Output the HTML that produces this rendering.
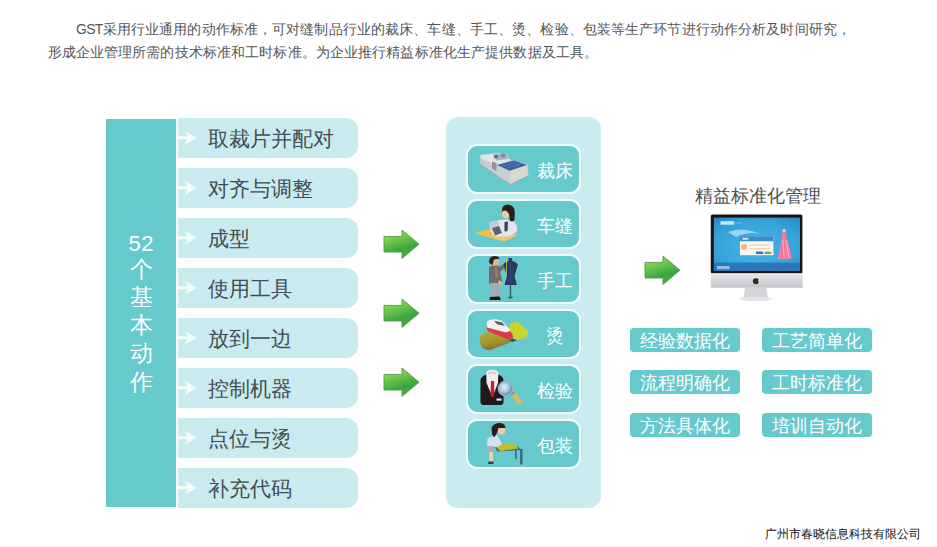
<!DOCTYPE html>
<html><head><meta charset="utf-8">
<style>
*{margin:0;padding:0;box-sizing:border-box}
html,body{width:937px;height:547px;overflow:hidden;background:#fff}
body{position:relative;font-family:"Liberation Sans",sans-serif}
.abs{position:absolute}
#para{left:47.5px;top:17.5px;width:820px;font-size:14px;line-height:23px;color:#555;text-indent:28.5px}
#lp{left:106px;top:119px;width:70px;height:388px;background:#66c9cc;color:#fff;text-align:center;font-size:22px;line-height:28px;padding-top:225px}
.it{left:178px;width:179.6px;height:40.2px;background:#c9eaee;border-radius:0 12px 12px 0}
.it span{position:absolute;left:30px;top:1px;line-height:40px;font-size:21px;color:#434d53;font-weight:500;white-space:nowrap}
.it svg{position:absolute;left:0;top:12px}
#mp{left:446px;top:117px;width:155px;height:391px;background:#caecef;border-radius:12px}
.cd{left:466px;width:115px;height:49.6px;background:#66c9cc;border:2.8px solid #f4fdfd;border-radius:11px}
.cd span{position:absolute;left:52.5px;width:68px;text-align:center;top:3px;line-height:44px;font-size:17.5px;color:#fff;white-space:nowrap}
.cd svg{position:absolute;left:8px;top:4px}
.btn{width:110px;height:24px;background:#66c9cc;border-radius:4px;color:#fff;font-size:18px;line-height:26px;text-align:center;white-space:nowrap}
#title{left:695px;top:182.5px;font-size:17.7px;line-height:26px;color:#4e4e4e;font-weight:500;white-space:nowrap}
#foot{left:764.5px;top:526px;font-size:12px;line-height:16px;color:#111;white-space:nowrap}
</style></head><body>
<div id="para" class="abs"><span style="letter-spacing:0.12px"><span style="letter-spacing:-0.7px">GST</span>采用行业通用的动作标准，可对缝制品行业的裁床、车缝、手工、烫、检验、包装等生产环节进行动作分析及时间研究，</span><br><span style="letter-spacing:0.12px">形成企业管理所需的技术标准和工时标准。为企业推行精益标准化生产提供数据及工具。</span></div>

<div id="lp" class="abs"><div style="position:absolute;left:0;width:70px;top:110.5px;letter-spacing:0.6px;text-indent:0.6px">52</div><div style="position:absolute;left:0;width:70px;top:135.8px;line-height:28.2px;font-size:23px">个<br>基<br>本<br>动<br>作</div></div>

<div class="abs it" style="top:117.6px"><svg width="20" height="16" viewBox="0 0 20 16"><path d="M0 6.2H11V9.3H0Z M6.5 0.8L19 7.8L6.5 14.8L10.5 7.8Z" fill="#f4fcfc"/></svg><span>取裁片并配对</span></div>
<div class="abs it" style="top:167.6px"><svg width="20" height="16" viewBox="0 0 20 16"><path d="M0 6.2H11V9.3H0Z M6.5 0.8L19 7.8L6.5 14.8L10.5 7.8Z" fill="#f4fcfc"/></svg><span>对齐与调整</span></div>
<div class="abs it" style="top:217.6px"><svg width="20" height="16" viewBox="0 0 20 16"><path d="M0 6.2H11V9.3H0Z M6.5 0.8L19 7.8L6.5 14.8L10.5 7.8Z" fill="#f4fcfc"/></svg><span>成型</span></div>
<div class="abs it" style="top:267.6px"><svg width="20" height="16" viewBox="0 0 20 16"><path d="M0 6.2H11V9.3H0Z M6.5 0.8L19 7.8L6.5 14.8L10.5 7.8Z" fill="#f4fcfc"/></svg><span>使用工具</span></div>
<div class="abs it" style="top:317.6px"><svg width="20" height="16" viewBox="0 0 20 16"><path d="M0 6.2H11V9.3H0Z M6.5 0.8L19 7.8L6.5 14.8L10.5 7.8Z" fill="#f4fcfc"/></svg><span>放到一边</span></div>
<div class="abs it" style="top:367.6px"><svg width="20" height="16" viewBox="0 0 20 16"><path d="M0 6.2H11V9.3H0Z M6.5 0.8L19 7.8L6.5 14.8L10.5 7.8Z" fill="#f4fcfc"/></svg><span>控制机器</span></div>
<div class="abs it" style="top:417.6px"><svg width="20" height="16" viewBox="0 0 20 16"><path d="M0 6.2H11V9.3H0Z M6.5 0.8L19 7.8L6.5 14.8L10.5 7.8Z" fill="#f4fcfc"/></svg><span>点位与烫</span></div>
<div class="abs it" style="top:467.6px"><svg width="20" height="16" viewBox="0 0 20 16"><path d="M0 6.2H11V9.3H0Z M6.5 0.8L19 7.8L6.5 14.8L10.5 7.8Z" fill="#f4fcfc"/></svg><span>补充代码</span></div>

<!-- green arrows -->
<svg class="abs" style="left:383px;top:229px" width="38" height="31" viewBox="0 0 38 31"><defs><linearGradient id="ga" x1="0.2" y1="0" x2="0.6" y2="1"><stop offset="0" stop-color="#a6dc62"/><stop offset="0.35" stop-color="#6cc64a"/><stop offset="0.7" stop-color="#3aa540"/><stop offset="1" stop-color="#4caf3e"/></linearGradient></defs><path d="M1 7.4H19V1L36 15.2L19 29.4V23H1Z" fill="url(#ga)" stroke="#5e9450" stroke-width="0.9" stroke-linejoin="round"/></svg>
<svg class="abs" style="left:383px;top:298px" width="38" height="31" viewBox="0 0 38 31"><path d="M1 7.4H19V1L36 15.2L19 29.4V23H1Z" fill="url(#ga)" stroke="#5e9450" stroke-width="0.9" stroke-linejoin="round"/></svg>
<svg class="abs" style="left:383px;top:367px" width="38" height="31" viewBox="0 0 38 31"><path d="M1 7.4H19V1L36 15.2L19 29.4V23H1Z" fill="url(#ga)" stroke="#5e9450" stroke-width="0.9" stroke-linejoin="round"/></svg>
<svg class="abs" style="left:644px;top:255px" width="38" height="31" viewBox="0 0 38 31"><path d="M1 7.4H19V1L36 15.2L19 29.4V23H1Z" fill="url(#ga)" stroke="#5e9450" stroke-width="0.9" stroke-linejoin="round"/></svg>

<div id="mp" class="abs"></div>
<div class="abs cd" style="top:144px"><span>裁床</span></div>
<div class="abs cd" style="top:199px"><span>车缝</span></div>
<div class="abs cd" style="top:254px"><span>手工</span></div>
<div class="abs cd" style="top:309px"><span>烫</span></div>
<div class="abs cd" style="top:364px"><span>检验</span></div>
<div class="abs cd" style="top:419px"><span>包装</span></div>


<svg class="abs" style="left:0;top:0" width="937" height="547" viewBox="0 0 937 547">
<defs>
<linearGradient id="mtop" x1="0" y1="0" x2="1" y2="1"><stop offset="0" stop-color="#e6eaec"/><stop offset="1" stop-color="#c9cfd3"/></linearGradient>
<linearGradient id="mfront" x1="0" y1="0" x2="0" y2="1"><stop offset="0" stop-color="#d5dadc"/><stop offset="1" stop-color="#b9c1c6"/></linearGradient>
<radialGradient id="lens" cx="0.4" cy="0.4" r="0.6"><stop offset="0" stop-color="#e8f2fa"/><stop offset="0.7" stop-color="#9cc0dc"/><stop offset="1" stop-color="#6a8aa8"/></radialGradient>
<radialGradient id="scr" cx="0.5" cy="0.55" r="0.7"><stop offset="0" stop-color="#46b8e6"/><stop offset="0.7" stop-color="#35a2d8"/><stop offset="1" stop-color="#2a8ac8"/></radialGradient>
<linearGradient id="chin" x1="0" y1="0" x2="0" y2="1"><stop offset="0" stop-color="#e9eaec"/><stop offset="1" stop-color="#c4c6c9"/></linearGradient>
<linearGradient id="olive" x1="0" y1="0" x2="0.3" y2="1"><stop offset="0" stop-color="#bba832"/><stop offset="0.6" stop-color="#9f9a2c"/><stop offset="1" stop-color="#8e6a36"/></linearGradient>
<linearGradient id="mat" x1="0" y1="0" x2="1" y2="1"><stop offset="0" stop-color="#f2b83c"/><stop offset="1" stop-color="#f0cc78"/></linearGradient>
<filter id="bl" x="-10%" y="-10%" width="120%" height="120%"><feGaussianBlur stdDeviation="0.6"/></filter>
</defs>
<g filter="url(#bl)">
<!-- card1 cutting machine -->
<path d="M480.5 154.9 L493 153.8 L506.2 153.5 L510.3 160.4 L515.9 160.4 L527.7 164.6 L528.4 175.7 L510.3 184.7 L480.5 164.6 Z" fill="#c6ccce"/>
<path d="M480.5 154.9 L493 153.8 L506.2 153.5 L510.3 160.4 L497.1 164.9 L480.5 158.5 Z" fill="#e0e5e5"/>
<path d="M480.5 158.5 L497.1 164.9 L509.6 170.8 L510.3 184.7 L480.5 164.6 Z" fill="#c8cfd0"/>
<path d="M509.6 170.8 L527 164.9 L528.4 175.7 L510.3 184.7 Z" fill="#d6d8cf"/>
<path d="M497.1 164.9 L514.5 160.4 L527 164.9 L509.6 170.8 Z" fill="#3e5ea4"/>
<path d="M502 166.5 L518 161.8 M506 168.3 L522 163.3" stroke="#6a84bc" stroke-width="0.6"/>
<path d="M480.5 164.6 L510.3 184.7 L528.4 175.7" stroke="#9aa6aa" stroke-width="1" fill="none"/>
<path d="M493 154.5 L506 153.8 L509 159 L496 160.5 Z" fill="#a9b4bc"/>
<ellipse cx="503" cy="155.5" rx="2.6" ry="2.2" fill="#7f8e9a"/>
<rect x="494" y="155" width="4" height="3" fill="#5e6e7e"/>
<path d="M492 161.5 L496.5 163 L496.5 171 L492 168.5 Z" fill="#8c969c"/>
<!-- card2 woman sewing -->
<path d="M474.5 233.5 L489 228.5 L518 235 L504 241.5 Z" fill="url(#mat)"/>
<path d="M490 224 Q497 219 507 219.5 L514 221.5 Q518.5 226 516.5 232 L509 236.5 L495 236.5 Q489 232 490 224 Z" fill="#e4e4ee"/>
<path d="M489.5 222 Q494 219.5 498 221 L500 228 L494 232 Q489 229 489.5 222 Z" fill="#c4ccd8"/>
<path d="M492 228 L499 226 L502 233 L495 235.5 Z" fill="#5c6478"/>
<path d="M504.5 222 L508 221.5 L507.5 231 L504.5 231.5 Z" fill="#3c3d5a"/>
<ellipse cx="505.8" cy="213.5" rx="3.8" ry="4.8" fill="#f2caa6"/>
<path d="M501.8 212 Q501.5 204.8 508 204.6 Q514.5 205 514.8 212.5 L514.5 220 Q512.5 222.5 509.8 220.5 L509.2 214.5 Q507.5 210.5 504 210.5 Q502.5 211 501.8 212 Z" fill="#2e1e1a"/>
<!-- card3 man dress form -->
<path d="M489 267 Q493 265 499 266 L502 281 L501.5 284 L489 284 Z" fill="#6f6b6a"/>
<path d="M494.5 267 L497.5 267 L498.5 277 L495.5 278 Z" fill="#9a7a5a"/>
<path d="M490.5 283 L499.5 283 L499 297 L491 297 Z" fill="#a4aab6"/>
<path d="M490 297 L499.5 296.5 L501 300 L489.5 300 Z" fill="#161616"/>
<path d="M497.5 268 L504.5 263.5 L506.5 265.5 L500.5 271.5 Z" fill="#6f6b6a"/>
<path d="M499 280 L503 283 L501 285 L498 283 Z" fill="#e0b890"/>
<ellipse cx="494.5" cy="261" rx="4.3" ry="4.6" fill="#e6b48c"/>
<path d="M489.2 263 Q488.5 256 494.5 256 Q499 256 499.5 258.5 L494 259.5 L492.5 265 Z" fill="#2a2420"/>
<path d="M508.5 258 L512 258 L512.3 261 Q517 262 517.8 265 L515.5 273 L514.5 276 L517 285 L504.5 285 L507 276 L506 273 L503.5 265 Q504 262 508.5 261 Z" fill="#2b3a62"/>
<path d="M510 262 L511 284" stroke="#3e5080" stroke-width="0.8"/>
<rect x="509.8" y="285" width="1.4" height="12" fill="#3c5a6c"/>
<ellipse cx="510.5" cy="297.5" rx="2.5" ry="1" fill="#3c5a6c"/>
<rect x="506" y="260" width="0.8" height="15" fill="#d9c84a"/>
<!-- card4 iron -->
<path d="M479.5 338 Q481 333.5 489.5 332 L511.5 337.5 Q512 341 509 343 L490 350 Q482 350 480.5 344 Z" fill="url(#olive)"/>
<path d="M509 326 Q511 321.5 517.5 321.5 L520.5 324.5 L527.5 330 Q529.5 335 526 337.5 L517 340 Q512.5 339.5 511 336 Z" fill="#c7d52f"/>
<path d="M486.5 326.5 Q487.5 324.5 491 324.8 L510 331 Q513.5 334 513 338.2 L509 340 L488.5 331.5 Q486 329.5 486.5 326.5 Z" fill="#d83a50"/>
<path d="M487.5 321 Q492 318 501.5 320.5 L510.5 330 Q508.5 332.8 505 332.2 L487 327.5 Q486 324 487.5 321 Z" fill="#f3f1f1"/>
<path d="M494 320.8 L502 322.2 L505 326 L497 324.2 Z" fill="#5e5e66"/>
<path d="M509 340.5 L513 338.5 L517 340.5 L512 342 Z" fill="#3a5050"/>
<!-- card5 suit + magnifier -->
<path d="M480.5 380 Q481 376.5 486.5 374.5 L498 374.5 Q503 376 503.5 380 L503.5 402 Q503.5 405 500 405 L484 405 Q480.5 405 480.5 402 Z" fill="#1b1a1c"/>
<path d="M486.3 373 Q487 369.8 492 369.8 Q497.5 369.8 498.3 373 L498 383 L492.5 397 L486.5 383 Z" fill="#f3ede8"/>
<path d="M488 372 Q492 370.5 496.5 372 L496 374.5 Q492 373 488.5 374.5 Z" fill="#d8d0cc"/>
<path d="M491 381 L494 381 L494.5 395 L492.5 397.5 L490.5 395 Z" fill="#b22838"/>
<rect x="496.5" y="398.5" width="5" height="2.2" fill="#e8e8e8"/>
<path d="M510.5 393.5 L514.5 391.5 L522 402 L518.5 404.5 Z" fill="#e8b84c"/>
<path d="M510 393 L513.5 391 L515 393 L511.5 395.5 Z" fill="#8a8f98"/>
<circle cx="505.5" cy="388.5" r="7.9" fill="#98b0c6"/>
<circle cx="505.5" cy="388.5" r="6.4" fill="url(#lens)"/>
<!-- card6 woman packing -->
<path d="M495 447 L518 446.5 L521.5 450 L497 451.5 Z" fill="#3a6e82"/>
<rect x="520" y="449" width="2.6" height="15.5" fill="#3a6e82"/>
<rect x="515" y="449.5" width="1.6" height="9.5" fill="#3a6e82"/>
<path d="M496 446.5 Q505 442 515 444.5 L518.5 448.5 L500 451 Z" fill="#c4bc2a"/>
<path d="M487.5 438 Q492 435.5 497.5 435.5 L502 444 L498 447 L493 446.5 L487 446.5 Z" fill="#cfe3ee"/>
<path d="M487 446 L494 446 L493.5 452 L487.5 452 Z" fill="#b6a8b2"/>
<path d="M489 452 L493 452 L492.8 462 L489.5 462 Z" fill="#e8d4b4"/>
<path d="M488.5 461.5 L493.5 461.5 L493.5 464 L488 464 Z" fill="#2a4656"/>
<ellipse cx="501.5" cy="430.5" rx="3.8" ry="4" fill="#f0c6a0"/>
<path d="M491.8 427 Q495 422.5 501 423.2 Q505.5 424 505.3 428 L498.5 428 L497 433 L494 437.5 Q491 433 491.8 427 Z" fill="#2a1c26"/>
</g>
<!-- monitor -->
<g filter="url(#bl)">
<rect x="710.8" y="214.5" width="91.6" height="59" rx="1.5" fill="#141414"/>
<rect x="713.8" y="217.6" width="86.2" height="53.4" fill="url(#scr)"/>
<rect x="713.8" y="262.7" width="86.2" height="8.3" fill="#2a76b6"/>
<path d="M728 232 Q742 226 760 234 Q748 231 736 237 Z" fill="#bfe8f6" opacity="0.7"/>
<rect x="740" y="236.2" width="33.4" height="19" fill="#f7f5f0"/>
<rect x="740" y="236.2" width="33.4" height="5" fill="#3a8ad0"/>
<rect x="742.5" y="237.8" width="6" height="1.8" fill="#e0ecf8"/>
<circle cx="744" cy="247" r="3" fill="#f0b888"/>
<rect x="750" y="244.5" width="20" height="1.3" fill="#ead8b8"/>
<rect x="750" y="248" width="20" height="1.3" fill="#ead8b8"/>
<rect x="756" y="251.6" width="7" height="2.4" fill="#3a6ad0"/>
<rect x="764.5" y="251.6" width="7" height="2.4" fill="#5cc04a"/>
<path d="M782.5 232 Q784 229.5 786 231 L786.5 237 Q789 244 792 258 Q786 261 777 259 Q781 246 781.5 238 Z" fill="#ee7aa2"/>
<path d="M783 240 L784 258 M786 240 L789 258" stroke="#f8c8da" stroke-width="0.8"/>
<circle cx="784" cy="230.5" r="1.6" fill="#f4d0c0"/>
<rect x="720.5" y="221.2" width="13.5" height="3.5" fill="#e4f2fa" opacity="0.85"/>
<rect x="734" y="222.6" width="8" height="0.6" fill="#cfe8f6" opacity="0.6"/>
<rect x="717" y="266" width="12.5" height="3.2" fill="#c4dcef" opacity="0.7"/>
<rect x="710.8" y="273.3" width="91.8" height="14.5" fill="url(#chin)"/>
<path d="M745 287.8 L766.5 287.8 L768 297.5 L743.5 297.5 Z" fill="#d3d5d8"/>
<ellipse cx="756" cy="298.8" rx="16.5" ry="2.3" fill="#e3e4e6"/>
<path d="M753.3 279 Q756 277.5 758.5 279 Q757.5 281 758.8 282.5 Q757.5 285 756 284 Q754.5 285 753 282.5 Q752.5 280.5 753.3 279Z" fill="#2a2a2a"/>
</g>
</svg>

<div id="title" class="abs">精益标准化管理</div>

<div class="abs btn" style="left:630px;top:328px">经验数据化</div>
<div class="abs btn" style="left:762px;top:328px">工艺简单化</div>
<div class="abs btn" style="left:630px;top:370px">流程明确化</div>
<div class="abs btn" style="left:762px;top:370px">工时标准化</div>
<div class="abs btn" style="left:630px;top:413px">方法具体化</div>
<div class="abs btn" style="left:762px;top:413px">培训自动化</div>

<div id="foot" class="abs">广州市春晓信息科技有限公司</div>
</body></html>
